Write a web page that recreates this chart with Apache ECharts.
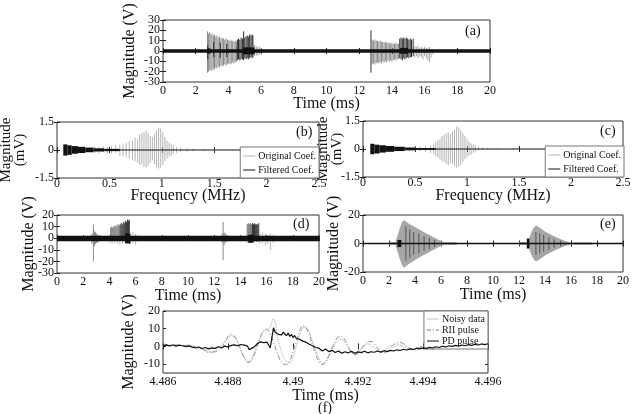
<!DOCTYPE html>
<html>
<head>
<meta charset="utf-8">
<script src="https://cdn.jsdelivr.net/npm/echarts@6/dist/echarts.min.js"></script>
<style>
  html, body { margin: 0; padding: 0; background: #fff; }
  #chart { width: 636px; height: 414px; }
</style>
</head>
<body>
<div id="chart"></div>
<script>
// ===== data =====
// spikes are [x, low, high], bands are [x0, x1, low, high], envelopes are [x, low, high]

// (a) raw signal
var aGraySpikes = [
  [2.72,-21,19],[2.78,-20,17],[2.86,-19,18],[2.93,-18,16],[3.0,-19,17],[3.08,-17,15],[3.15,-18,16],
  [3.23,-16,14],[3.3,-17,15],[3.38,-15,13],[3.46,-16,14],[3.54,-14,12],[3.62,-15,13],[3.7,-14,12],
  [3.78,-13,11],[3.86,-14,12],[3.94,-13,11],[4.02,-12,10],[4.1,-13,11],[4.18,-12,10],[4.26,-11,10],
  [4.34,-12,9],[4.42,-11,10],[4.5,-10,9],
  [12.8,-13,11],[12.88,-12,10],[12.96,-13,11],[13.04,-12,10],[13.12,-11,10],[13.2,-12,9],[13.28,-11,10],
  [13.36,-12,9],[13.44,-10,9],[13.52,-11,8],[13.6,-10,9],[13.68,-11,8],[13.76,-9,8],[13.84,-10,8],
  [13.92,-9,7],[14.0,-10,8],[14.08,-9,7],[14.16,-8,7],[14.24,-9,8],[14.32,-8,7],[14.4,-8,7]
];
var aDarkSpikes = [
  [2.74,-8,6],[3.1,-6,9],[3.5,-7,8],[3.9,-6,7],
  [4.55,-9,11],[4.62,-8,12],[4.7,-9,11],[4.78,-8,13],[4.86,-8,12],[4.93,-9,19],[5.0,-7,13],
  [5.08,-8,14],[5.15,-7,15],[5.22,-8,14],[5.3,-7,16],[5.38,-6,15],[5.45,-7,16],[5.5,-6,15],
  [12.72,-21,20],
  [14.48,-7,12],[14.56,-8,13],[14.64,-9,12],[14.72,-7,13],[14.8,-8,12],[14.88,-7,13],[14.96,-6,12],
  [15.04,-7,11],[15.12,-6,12],[15.2,-6,11],[15.3,-5,12]
];
var aLightSpikes = [
  [5.6,-5,6],[5.7,-4,5],[5.8,-5,4],[5.9,-3,4],[6.0,-4,3],[6.1,-2,2],
  [15.4,-6,5],[15.5,-5,4],[15.6,-7,5],[15.7,-5,3],[15.8,-6,4],[15.9,-8,3],[16.0,-5,4],
  [16.1,-7,3],[16.2,-9,3],[16.3,-11,4],[16.4,-6,2],[16.5,-3,2]
];
var aNoise = [[0,20,-1.8,1.8],[4.9,5.6,-3.2,3.5],[14.5,15.0,-2.6,3],[2.7,2.9,-2.6,2.6]];

// (b) (c) wavelet coefficients
var bOriginal = [
  [0.36,-0.15,0.18],[0.4,-0.2,0.15],[0.44,-0.12,0.2],[0.48,-0.18,0.16],[0.52,-0.2,0.22],[0.56,-0.15,0.25],
  [0.6,-0.3,0.28],[0.63,-0.35,0.3],[0.66,-0.4,0.38],[0.69,-0.45,0.5],[0.72,-0.55,0.5],[0.745,-0.6,0.65],
  [0.77,-0.7,0.6],[0.79,-0.8,0.85],[0.81,-0.75,0.9],[0.83,-0.9,0.95],[0.85,-0.95,1.05],[0.87,-0.85,0.9],
  [0.89,-0.7,0.75],[0.91,-0.55,0.7],[0.93,-0.75,0.85],[0.95,-0.9,1.05],[0.97,-1.0,1.2],[0.99,-0.95,1.15],
  [1.01,-0.8,0.95],[1.03,-0.6,0.7],[1.05,-0.45,0.5],[1.07,-0.35,0.4],[1.09,-0.3,0.3],[1.11,-0.2,0.25],
  [1.14,-0.15,0.15],[1.18,-0.1,0.12],[1.24,-0.08,0.1],[1.3,-0.06,0.08],[1.4,-0.05,0.06],[1.5,-0.04,0.05]
];
var bFiltered = [[0.06,0.1,-0.3,0.3],[0.1,0.14,-0.26,0.25],[0.14,0.2,-0.2,0.21],[0.2,0.27,-0.16,0.17],
  [0.27,0.35,-0.12,0.13],[0.35,0.45,-0.08,0.09],[0.45,0.6,-0.06,0.06],[0.6,2.5,-0.025,0.025]];
var cOriginal = [
  [0.4,-0.1,0.12],[0.45,-0.12,0.1],[0.5,-0.1,0.14],[0.55,-0.12,0.12],[0.6,-0.15,0.14],[0.65,-0.2,0.2],
  [0.68,-0.3,0.28],[0.7,-0.4,0.38],[0.72,-0.45,0.5],[0.74,-0.55,0.55],[0.76,-0.65,0.7],[0.78,-0.7,0.75],
  [0.8,-0.8,0.85],[0.82,-0.85,0.9],[0.84,-0.75,0.8],[0.86,-0.8,0.95],[0.88,-0.9,1.05],[0.9,-1.0,1.2],
  [0.92,-0.95,1.15],[0.94,-0.85,1.0],[0.96,-0.7,0.85],[0.98,-0.55,0.7],[1.0,-0.45,0.55],[1.02,-0.35,0.4],
  [1.04,-0.3,0.3],[1.06,-0.2,0.25],[1.08,-0.15,0.18],[1.11,-0.1,0.12],[1.15,-0.06,0.08],[1.2,-0.05,0.06],
  [1.3,-0.04,0.05],[1.45,-0.03,0.04]
];
var cFiltered = [[0.07,0.11,-0.28,0.28],[0.11,0.16,-0.24,0.23],[0.16,0.22,-0.19,0.2],[0.22,0.3,-0.15,0.16],
  [0.3,0.4,-0.11,0.12],[0.4,0.5,-0.07,0.08],[0.5,0.7,-0.05,0.05],[0.7,2.5,-0.025,0.025]];

// (d) denoised signal
var dGraySpikes = [
  [2.6,-3,3],[2.68,-5,4],[2.78,-20,12],[2.86,-7,6],[2.94,-5,5],[3.02,-4,4],[3.1,-4,3],[3.2,-3,3],[3.35,-2,2.5],
  [12.6,-4,4],[12.68,-19,14],[12.76,-6,5],[12.85,-4,4],[12.95,-3,3],[13.1,-3,2.5]
];
var dLightSpikes = [
  [4.0,-4,3],[4.2,-5,3],[4.4,-4,3],[4.6,-5,3],[4.8,-6,3],[5.0,-5,3],[5.2,-4,3],[5.6,-5,4],[5.8,-4,5],
  [6.0,-6,4],[6.2,-3,3],[6.4,-2,2],[14.5,-4,3],[15.5,-5,4],[15.7,-4,5],[15.9,-6,4],[16.1,-5,3],
  [16.3,-10,4],[16.5,-4,3],[16.7,-3,2]
];
var dMidSpikes = [
  [4.1,-2,9],[4.18,-1,10],[4.26,-2,9],[4.34,-1,10],[4.42,-2,11],[4.5,-1,10],[4.58,-2,11],[4.66,-1,12],
  [4.74,-2,11],[14.52,-2,12],[14.6,-3,13],[14.68,-2,12],[14.76,-3,13],[14.84,-2,12]
];
var dDarkSpikes = [
  [4.82,-1,12],[4.9,-2,13],[4.98,-1,12],[5.06,-2,14],[5.14,-1,13],[5.22,-2,15],[5.3,-1,14],[5.38,-3,16],
  [5.46,-2,15],[5.52,-5,16],[14.92,-3,13],[15.0,-2,12],[15.08,-3,13],[15.16,-2,12],[15.24,-3,12],
  [15.32,-2,12],[15.4,-3,13]
];
var dNoise = [[0,20,-2.6,2.2],[5.2,5.6,-4.5,4],[14.6,15.0,-4,3]];

// (e) reconstructed signal
var eBurst1 = [[2.45,0,0],[2.6,-4,4],[2.8,-10,10],[3.0,-15,15],[3.15,-17,16.5],[3.5,-14.5,14],[4.0,-11.5,11.5],
  [4.5,-9,9],[5.0,-6.5,6.5],[5.5,-4,4],[6.0,-1.8,1.8],[6.4,-0.3,0.3]];
var eBurst2 = [[12.6,0,0],[12.8,-4,4],[13.0,-9,9],[13.2,-12,12],[13.35,-12.5,12.5],[13.6,-11,11],[14.0,-8.5,8.5],
  [14.5,-6,6],[15.0,-3.8,3.8],[15.5,-2,2],[16.0,-0.6,0.6],[16.2,-0.2,0.2]];
var eDarkSpikes = [[3.3,-12,12],[3.6,-10,10],[3.9,-8,8],[4.3,-7,7],[4.7,-5,5],[5.1,-4,4],[5.5,-2.5,2.5],
  [13.3,-8,8],[13.6,-7,7],[13.9,-6,6],[14.3,-4.5,4.5],[14.7,-3,3],[15.2,-2,2]];
var eNoiseGray = [[2,2.5,-1,1],[6.3,7.2,-0.9,0.9],[12,12.6,-1,1],[16.2,17.6,-0.8,0.8]];
var eNoiseDark = [[0,20,-0.6,0.6],[2.65,2.95,-2.5,2.5],[12.6,12.8,-3.5,3.5]];

// (f) zoom on one pulse, [time (ms), magnitude (V)]
var fNoisy = [
  [4.4860,0.8],[4.4862,0.2],[4.4864,1],[4.4866,0.4],[4.4868,0.9],[4.4870,-0.5],[4.4872,-1.5],[4.4874,-3.5],
  [4.4876,-2.5],[4.4878,1],[4.4880,4.5],[4.4881,6],[4.4882,5],[4.4883,2],[4.4884,-2.5],[4.4885,-6],
  [4.4886,-8.5],[4.4887,-7.5],[4.4888,-4],[4.4889,1],[4.4890,5],[4.4891,8.5],[4.4892,9],[4.4893,11],
  [4.4894,16],[4.48945,14],[4.4895,7],[4.4896,0],[4.4897,-6],[4.4898,-8.5],[4.4899,-9.2],[4.4900,-6],
  [4.4901,0],[4.4902,6],[4.4903,10.5],[4.4904,11],[4.4905,8],[4.4906,3],[4.4907,-2.5],[4.4908,-7],
  [4.4909,-9.8],[4.4910,-8.5],[4.4911,-5],[4.4912,-2],[4.4913,1.5],[4.4914,3.5],[4.4915,4],[4.4916,2],
  [4.4917,-1],[4.4918,-3.5],[4.4919,-4.5],[4.4920,-3],[4.4921,-1],[4.4922,0.5],[4.4923,1.5],[4.4924,0.8],
  [4.4925,-1],[4.4926,-2.5],[4.4927,-3.5],[4.4928,-2.8],[4.4929,-1],[4.4930,0.5],[4.4931,-0.5],[4.4932,1],
  [4.4934,0],[4.4936,-1.5],[4.4938,-2],[4.4940,-0.5],[4.4942,-1],[4.4944,0],[4.4946,-0.5],[4.4948,0.3],
  [4.4950,0],[4.4952,0.6],[4.4954,0.2],[4.4956,0.8],[4.4958,0.5],[4.4960,1]
];
var fRII = [
  [4.4860,0.5],[4.4863,0.8],[4.4866,0.6],[4.4869,0.2],[4.4871,-0.8],[4.4873,-2.2],[4.48755,-3.2],[4.4878,-0.5],
  [4.4879,2.5],[4.4880,5.5],[4.48809,6.9],[4.4882,5.8],[4.4883,2.5],[4.4884,-2],[4.4885,-6.5],[4.48863,-9],
  [4.4887,-8.5],[4.4888,-5],[4.4889,0],[4.4890,5.5],[4.4891,9],[4.48919,9.8],[4.4893,7],[4.4894,2.5],
  [4.4895,-3],[4.4896,-7.5],[4.4897,-9.8],[4.4898,-10.2],[4.4899,-8],[4.4900,-3],[4.4901,3],[4.4902,8.5],
  [4.4903,11.7],[4.4904,10.5],[4.4905,6.5],[4.4906,1],[4.4907,-4.5],[4.4908,-8.5],[4.4909,-10.3],[4.4910,-9],
  [4.4911,-5.5],[4.4912,-1],[4.4913,3],[4.4914,5.3],[4.4915,5.5],[4.4916,3.5],[4.4917,0],[4.4918,-3.5],
  [4.4919,-4.8],[4.4920,-4],[4.4921,-1.5],[4.4922,1],[4.4923,2.6],[4.4924,2.8],[4.4925,1.5],[4.4926,-1],
  [4.4927,-3],[4.4928,-3.6],[4.4929,-2.5],[4.4930,-0.5],[4.4931,1],[4.4932,2],[4.4933,2.2],[4.4934,1.5],
  [4.4935,0],[4.4936,-1.2],[4.4937,-1.8],[4.4938,-1.5],[4.4939,-0.5],[4.4940,0.5],[4.4941,1],[4.4942,0.8],
  [4.4944,0],[4.4946,-0.3],[4.4948,0.2],[4.4952,0.5],[4.4956,0.6],[4.4960,0.8]
];
var fPD = [
  [4.4860,0.5],[4.4861,0.9],[4.4862,0.3],[4.4863,0.8],[4.4864,0.2],[4.4865,0.7],[4.4866,0.4],[4.4867,-0.2],
  [4.4868,0.3],[4.4869,-0.4],[4.4870,-0.9],[4.4871,-0.3],[4.4872,-1.2],[4.4873,-0.6],[4.4874,-1.4],[4.4875,-0.8],
  [4.4876,-1.1],[4.4877,-0.2],[4.4878,-0.9],[4.4879,0.2],[4.4880,-0.3],[4.4881,0.6],[4.4882,0.9],[4.4883,0.4],
  [4.4884,1.1],[4.4885,0.7],[4.4886,0.2],[4.48865,-1.8],[4.4887,-2.2],[4.4888,-0.4],[4.4889,1.5],[4.4890,2.6],
  [4.4891,2.1],[4.48915,3],[4.4892,2.4],[4.4893,-0.8],[4.4894,10.5],[4.48945,8.2],[4.4895,8.5],[4.48955,6.8],
  [4.4896,7.8],[4.48965,6.5],[4.4897,8.1],[4.4898,6],[4.48985,7.6],[4.4899,5.6],[4.48995,6.8],[4.4900,5],
  [4.49005,6.2],[4.4901,4.6],[4.49015,5.4],[4.4902,4],[4.49025,4.8],[4.4903,3],[4.49035,3.8],[4.4904,2.4],
  [4.49045,3.1],[4.4905,1.2],[4.49055,2],[4.4906,0.4],[4.49065,1.3],[4.4907,-0.6],[4.4908,-1],[4.4909,-2.6],
  [4.4910,-1.5],[4.4911,-2.9],[4.4912,-2.2],[4.4913,-3.4],[4.4914,-2.6],[4.4915,-3.8],[4.4916,-3],[4.4917,-3.6],
  [4.4918,-2.8],[4.4919,-3.9],[4.4920,-3.1],[4.4921,-3.5],[4.4922,-2.7],[4.4923,-3.6],[4.4924,-3],[4.4925,-3.3],
  [4.4926,-2.6],[4.4927,-3.2],[4.4928,-2.4],[4.4929,-2.9],[4.4930,-2.2],[4.4931,-2.6],[4.4932,-1.9],[4.4933,-2.3],
  [4.4934,-1.6],[4.4935,-2],[4.4936,-1.4],[4.4937,-1.7],[4.4938,-1],[4.4939,-1.4],[4.4940,-0.8],[4.4941,-1.1],
  [4.4942,-0.5],[4.4943,-0.9],[4.4944,-0.2],[4.4945,-0.6],[4.4946,0.1],[4.4947,-0.3],[4.4948,0.4],[4.4949,0],
  [4.4950,0.6],[4.4951,0.2],[4.4952,0.8],[4.4953,0.4],[4.4954,1],[4.4955,0.6],[4.4956,1.2],[4.4957,0.8],
  [4.4958,1.4],[4.4959,1],[4.4960,1.5]
];

// tick labels
var timeTicks = [0, 2, 4, 6, 8, 10, 12, 14, 16, 18, 20];
var freqTicks = [0, 0.5, 1, 1.5, 2, 2.5];
var coefTicks = [-1.5, 0, 1.5];
var aTicksY = [-30, -20, -10, 0, 10, 20, 30];
var dTicksY = [-30, -20, -10, 0, 10, 20];
var eTicksY = [-20, 0, 20];
var fTicksX = [4.486, 4.488, 4.49, 4.492, 4.494, 4.496];
var fTicksY = [-10, 0, 10, 20];

// ===== drawing helpers =====
var SERIF = '"Liberation Serif", "Times New Roman", serif';
var grids = [], xAxes = [], yAxes = [], series = [];

// vertical line from low to high
function spikeItem(params, api) {
  var hi = api.coord([api.value(0), api.value(2)]);
  var lo = api.coord([api.value(0), api.value(1)]);
  return { type: 'line', shape: { x1: hi[0], y1: hi[1], x2: lo[0], y2: lo[1] },
    style: { stroke: api.visual('color'), lineWidth: 1 } };
}
// filled box between x0..x1 and low..high
function bandItem(params, api) {
  var p0 = api.coord([api.value(0), api.value(3)]);
  var p1 = api.coord([api.value(1), api.value(2)]);
  return { type: 'rect', shape: { x: p0[0], y: p0[1], width: p1[0] - p0[0], height: p1[1] - p0[1] },
    style: { fill: api.visual('color') } };
}
// whole envelope polygon, drawn once
function envelopeItem(points) {
  return function (params, api) {
    if (params.dataIndex !== 0) return { type: 'group', children: [] };
    var up = [], down = [];
    for (var i = 0; i < points.length; i++) {
      up.push(api.coord([points[i][0], points[i][2]]));
      down.unshift(api.coord([points[i][0], points[i][1]]));
    }
    return { type: 'polygon', shape: { points: up.concat(down) }, style: { fill: api.visual('color') } };
  };
}

// role: 'main' (ticks + labels), 'alt' (second label set + name), 'mirror' (ticks on far side)
// labels are split over two axes when they sit closer than their height,
// otherwise echarts drops some of them
function axisOf(gi, dim, o, role) {
  var far = role === 'mirror';
  var ax = {
    type: 'value', gridIndex: gi,
    position: dim === 'x' ? (far ? 'top' : 'bottom') : (far ? 'right' : 'left'),
    min: o.min, max: o.max,
    axisLine: { show: false }, splitLine: { show: false },
    axisTick: { show: role !== 'alt', inside: true, length: 3, customValues: o.ticks,
      lineStyle: { color: '#222', width: 1 } },
    axisLabel: { show: false, fontFamily: SERIF, fontSize: 12, color: '#111',
      margin: o.margin == null ? 3 : o.margin, hideOverlap: false,
      formatter: function (v) { return String(+(+v).toFixed(3)); } },
    nameMoveOverlap: false
  };
  var labels = role === 'main' ? (o.labels || o.ticks) : role === 'alt' ? o.labels2 : null;
  if (labels) {
    ax.axisLabel.show = true;
    ax.axisLabel.customValues = labels;
  }
  if (role === 'alt' && o.name) {
    ax.name = o.name;
    ax.nameLocation = 'middle';
    ax.nameGap = o.gap;
    ax.nameTextStyle = { fontFamily: SERIF, fontSize: o.size || 16, color: '#111', lineHeight: 14 };
  }
  return ax;
}

function addPanel(box, xo, yo) {
  var gi = grids.length;
  grids.push({ left: box[0], top: box[1], width: box[2], height: box[3], show: true,
    borderColor: '#333', borderWidth: 1, backgroundColor: '#fff', outerBoundsMode: 'none' });
  var xi = xAxes.length, yi = yAxes.length;
  xAxes.push(axisOf(gi, 'x', xo, 'main'), axisOf(gi, 'x', xo, 'alt'), axisOf(gi, 'x', xo, 'mirror'));
  yAxes.push(axisOf(gi, 'y', yo, 'main'), axisOf(gi, 'y', yo, 'alt'), axisOf(gi, 'y', yo, 'mirror'));
  return { x: xi, y: yi };
}

function custom(p, name, data, color, render, z) {
  series.push({ type: 'custom', name: name, xAxisIndex: p.x, yAxisIndex: p.y, data: data,
    encode: { x: 0, y: [1, 2] }, renderItem: render, clip: true, silent: true,
    itemStyle: { color: color }, z: z || 2 });
}

// ===== panels =====
var pa = addPanel([163, 20, 327, 62],
  { min: 0, max: 20, ticks: timeTicks, name: 'Time (ms)', gap: 15 },
  { min: -30, max: 30, ticks: aTicksY, labels: [-30, -10, 10, 30], labels2: [-20, 0, 20],
    name: 'Magnitude (V)', gap: 26 });
custom(pa, 'a-gray', aGraySpikes, '#8c8c8c', spikeItem, 2);
custom(pa, 'a-light', aLightSpikes, '#a8a8a8', spikeItem, 2);
custom(pa, 'a-dark', aDarkSpikes, '#2e2e2e', spikeItem, 3);
custom(pa, 'a-noise', aNoise, '#111', bandItem, 4);

// the frequency axis title is a free text below (an axis name hides the tick labels under it)
var pb = addPanel([57, 122, 262, 56],
  { min: 0, max: 2.5, ticks: freqTicks, margin: 0 },
  { min: -1.5, max: 1.5, ticks: coefTicks, name: 'Magnitude\n(mV)', gap: 30, size: 15 });
custom(pb, 'Original Coef.', bOriginal, '#b4b4b4', spikeItem, 2);
custom(pb, 'Filtered Coef.', bFiltered, '#111', bandItem, 3);

var pc = addPanel([363, 121, 260, 56],
  { min: 0, max: 2.5, ticks: freqTicks, margin: 0 },
  { min: -1.5, max: 1.5, ticks: coefTicks, name: 'Magnitude\n(mV)', gap: 19, size: 15 });
custom(pc, 'Original Coef.', cOriginal, '#b4b4b4', spikeItem, 2);
custom(pc, 'Filtered Coef.', cFiltered, '#111', bandItem, 3);

var pd = addPanel([57, 215, 262, 58],
  { min: 0, max: 20, ticks: timeTicks, name: 'Time (ms)', gap: 16 },
  { min: -30, max: 20, ticks: dTicksY, labels: [-30, -10, 10], labels2: [-20, 0, 20],
    name: 'Magnitude (V)', gap: 21 });
custom(pd, 'd-light', dLightSpikes, '#b8b8b8', spikeItem, 2);
custom(pd, 'd-gray', dGraySpikes, '#8c8c8c', spikeItem, 2);
custom(pd, 'd-mid', dMidSpikes, '#707070', spikeItem, 3);
custom(pd, 'd-dark', dDarkSpikes, '#333', spikeItem, 3);
custom(pd, 'd-noise', dNoise, '#111', bandItem, 4);

var pe = addPanel([363, 215, 260, 57],
  { min: 0, max: 20, ticks: timeTicks, name: 'Time (ms)', gap: 16 },
  { min: -20, max: 20, ticks: eTicksY, name: 'Magnitude (V)', gap: 22 });
custom(pe, 'e-noise-gray', eNoiseGray, '#9a9a9a', bandItem, 2);
custom(pe, 'e-burst1', eBurst1, '#a6a6a6', envelopeItem(eBurst1), 2);
custom(pe, 'e-burst2', eBurst2, '#a6a6a6', envelopeItem(eBurst2), 2);
custom(pe, 'e-dark', eDarkSpikes, '#555', spikeItem, 3);
custom(pe, 'e-noise', eNoiseDark, '#111', bandItem, 4);

var pf = addPanel([163, 311, 325, 62],
  { min: 4.486, max: 4.496, ticks: fTicksX, name: 'Time (ms)', gap: 16 },
  { min: -15, max: 20, ticks: fTicksY, name: 'Magnitude (V)', gap: 27 });
series.push({ type: 'line', name: 'Noisy data', xAxisIndex: pf.x, yAxisIndex: pf.y, data: fNoisy,
  symbol: 'none', showSymbol: false, smooth: 0.3, lineStyle: { color: '#a8a8a8', width: 1, type: 'dotted' },
  itemStyle: { color: '#a8a8a8' }, z: 2 });
series.push({ type: 'line', name: 'RII pulse', xAxisIndex: pf.x, yAxisIndex: pf.y, data: fRII,
  symbol: 'none', showSymbol: false, smooth: 0.4, lineStyle: { color: '#8c8c8c', width: 1, type: [5, 2, 1, 2] },
  itemStyle: { color: '#8c8c8c' }, z: 3 });
series.push({ type: 'line', name: 'PD pulse', xAxisIndex: pf.x, yAxisIndex: pf.y, data: fPD,
  symbol: 'none', showSymbol: false, lineStyle: { color: '#111', width: 1.2 }, itemStyle: { color: '#111' }, z: 4 });

// ===== legends and panel tags =====
var ICON_DOTTED = 'path://M0,0h1v1h-1zM2,0h1v1h-1zM4,0h1v1h-1zM6,0h1v1h-1zM8,0h1v1h-1zM10,0h1v1h-1z';
var ICON_DASHDOT = 'path://M0,0h4v1h-4zM6,0h1v1h-1zM9,0h3v1h-3z';

function boxLegend(pos, items) {
  var lg = {
    orient: 'vertical', itemWidth: 12, itemHeight: 1, itemGap: 4,
    borderColor: '#777', borderWidth: 1, borderRadius: 0, backgroundColor: '#fff',
    selectedMode: false, textStyle: { fontFamily: SERIF, fontSize: 10, color: '#111', padding: [0, 0, 0, -2] },
    data: items
  };
  for (var k in pos) lg[k] = pos[k];
  return lg;
}
var legends = [
  boxLegend({ right: 317, bottom: 236, padding: [4, 3, 3, 3] }, [
    { name: 'Original Coef.', icon: 'rect', itemStyle: { color: '#b4b4b4' } },
    { name: 'Filtered Coef.', icon: 'rect', itemStyle: { color: '#111' } }]),
  boxLegend({ right: 12, bottom: 237, padding: [4, 3, 3, 3] }, [
    { name: 'Original Coef.', icon: 'rect', itemStyle: { color: '#b4b4b4' } },
    { name: 'Filtered Coef.', icon: 'rect', itemStyle: { color: '#111' } }]),
  boxLegend({ right: 148, top: 311, padding: [3, 3, 3, 3], itemGap: 1 }, [
    { name: 'Noisy data', icon: ICON_DOTTED, itemStyle: { color: '#888' } },
    { name: 'RII pulse', icon: ICON_DASHDOT, itemStyle: { color: '#777' } },
    { name: 'PD pulse', icon: 'rect', itemStyle: { color: '#111' } }])
];

function tag(text, x, y, size) {
  return { type: 'text', left: x, top: y, z: 10,
    style: { text: text, font: (size || 14) + 'px ' + SERIF, fill: '#111' } };
}
function centered(text, cx, cy) {
  return { type: 'text', x: cx, y: cy, z: 1,
    style: { text: text, font: '16px ' + SERIF, fill: '#111', align: 'center', verticalAlign: 'middle' } };
}

var chart = echarts.init(document.getElementById('chart'), null, { renderer: 'canvas' });
chart.setOption({
  animation: false,
  backgroundColor: '#fff',
  grid: grids,
  xAxis: xAxes,
  yAxis: yAxes,
  legend: legends,
  series: series,
  graphic: [
    tag('(a)', 465, 24), tag('(b)', 296, 125), tag('(c)', 600, 124),
    tag('(d)', 293, 217), tag('(e)', 600, 217), tag('(f)', 318, 401),
    centered('Frequency (MHz)', 188, 196), centered('Frequency (MHz)', 493, 196)
  ]
});
</script>
</body>
</html>
